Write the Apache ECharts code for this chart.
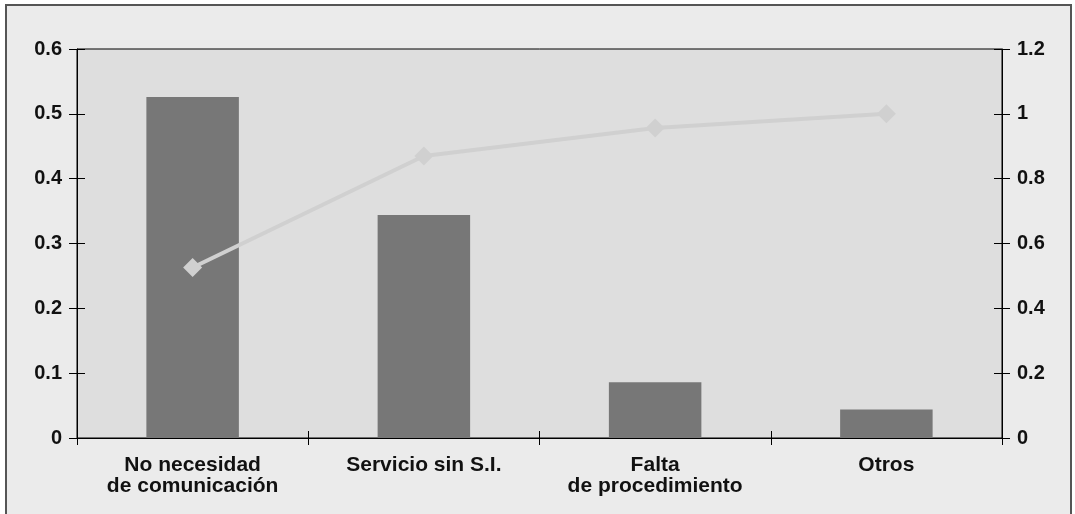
<!DOCTYPE html>
<html>
<head>
<meta charset="utf-8">
<script src="https://cdn.jsdelivr.net/npm/echarts@6/dist/echarts.min.js"></script>
<style>
  html, body { margin: 0; padding: 0; background: #ffffff; }
  #chart { width: 1075px; height: 514px; }
</style>
</head>
<body>
<div id="chart"></div>
<script>
// Causes (categories), share of each cause, and cumulative share
const categories = ['No necesidad\nde comunicación', 'Servicio sin S.I.', 'Falta\nde procedimiento', 'Otros'];
const shares = [0.526, 0.344, 0.086, 0.044];
const cumulative = [0.526, 0.87, 0.956, 1.0];
const leftTicks = { min: 0, max: 0.6, interval: 0.1 };
const rightTicks = { min: 0, max: 1.2, interval: 0.2 };

const FONT = '"Liberation Sans", Arial, Helvetica, sans-serif';
const textStyle = { color: '#111', fontFamily: FONT, fontWeight: 'bold', fontSize: 20 };

function yAx(pos, scale, showLabels, inside) {
  return {
    type: 'value', position: pos, min: scale.min, max: scale.max, interval: scale.interval,
    axisLine: { show: showLabels, lineStyle: { color: '#000', width: 1 } },
    axisTick: { show: true, inside: inside, length: 8, lineStyle: { color: '#000', width: 1 } },
    axisLabel: Object.assign({ show: showLabels, margin: 15 }, textStyle),
    splitLine: { show: false }
  };
}

function xAx(showLabels, inside) {
  return {
    type: 'category', position: 'bottom', data: categories,
    axisLine: { show: showLabels, lineStyle: { color: '#000', width: 1 } },
    axisTick: { show: true, inside: inside, length: 7, lineStyle: { color: '#000', width: 1 } },
    axisLabel: Object.assign({ show: showLabels, margin: 17, lineHeight: 21, interval: 0 },
      textStyle, { fontSize: 21 }),
    splitLine: { show: false }
  };
}

const chart = echarts.init(document.getElementById('chart'), null, { renderer: 'canvas' });
chart.setOption({
  animation: false,
  backgroundColor: '#ffffff',
  graphic: [{
    type: 'rect', z: -10, silent: true,
    shape: { x: 6, y: 5, width: 1065, height: 540 },
    style: { fill: '#ebebeb', stroke: '#555', lineWidth: 2 }
  }],
  grid: {
    left: 77, right: 73, top: 49, bottom: 76,
    show: true, backgroundColor: '#dedede', borderColor: '#000', borderWidth: 1
  },
  xAxis: [xAx(true, false), xAx(false, true)],
  yAxis: [
    yAx('left', leftTicks, true, false),
    yAx('right', rightTicks, true, false),
    yAx('left', leftTicks, false, true),
    yAx('right', rightTicks, false, true)
  ],
  series: [
    {
      type: 'bar', data: shares, xAxisIndex: 0, yAxisIndex: 0,
      barWidth: '40%', itemStyle: { color: '#777777' }, z: 2
    },
    {
      type: 'line', data: cumulative, xAxisIndex: 0, yAxisIndex: 1,
      symbol: 'diamond', symbolSize: 19, showSymbol: true,
      lineStyle: { color: '#d0d0d0', width: 4 },
      itemStyle: { color: '#d0d0d0' }, z: 3
    }
  ]
});
</script>
</body>
</html>
